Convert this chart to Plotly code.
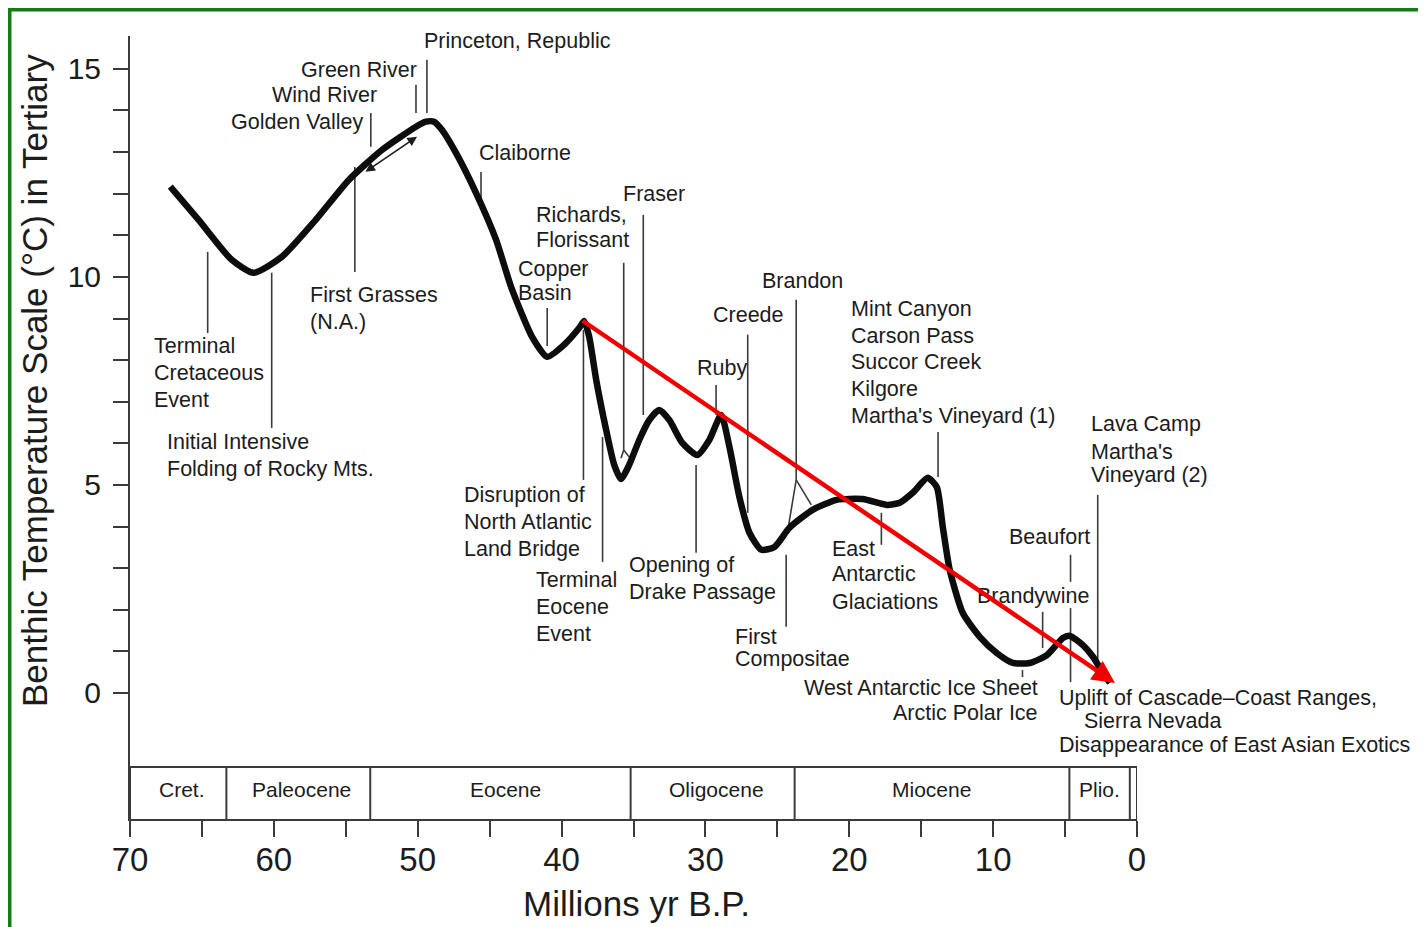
import plotly.graph_objects as go

# ---------------- data ----------------
# Benthic temperature curve: age (Myr B.P.) and temperature scale (deg C)
ages = [67.20, 65.23, 62.93, 61.40, 59.45, 57.09, 54.79, 52.49, 50.12, 49.43,
        48.87, 48.31, 47.34, 45.95, 44.55, 43.51, 42.05, 41.00, 39.82, 38.78,
        38.43, 38.08, 37.59, 36.90, 36.34, 35.87, 35.30, 34.60, 33.90, 33.21,
        32.51, 31.61, 30.56, 29.73, 28.91, 28.33, 27.64, 26.94, 26.11, 25.20,
        24.16, 22.55, 20.88, 19.07, 17.40, 16.50, 15.59, 14.55, 13.92, 13.50,
        13.02, 12.11, 10.93, 9.75, 8.63, 7.45, 6.26, 5.15, 4.66, 3.76,
        3.06, 2.37, 1.88]
temps = [12.17, 11.37, 10.41, 10.10, 10.48, 11.37, 12.33, 13.05, 13.61, 13.73,
         13.73, 13.53, 12.98, 12.02, 10.89, 9.76, 8.56, 8.08, 8.37, 8.77,
         8.94, 8.56, 7.52, 6.32, 5.48, 5.14, 5.48, 6.08, 6.56, 6.80,
         6.56, 6.01, 5.72, 6.08, 6.68, 5.91, 4.71, 3.85, 3.44, 3.51,
         3.97, 4.40, 4.64, 4.66, 4.52, 4.57, 4.81, 5.17, 4.95, 3.99,
         2.96, 1.92, 1.35, 0.96, 0.72, 0.72, 0.91, 1.32, 1.37, 1.15,
         0.87, 0.48, 0.24]

# Geological periods (boundaries in Myr B.P.) and where their names sit
period_bounds = [70, 63.3, 53.3, 35.2, 23.8, 4.7, 0.5, 0]
period_names = ["Cret.", "Paleocene", "Eocene", "Oligocene", "Miocene", "Plio."]
period_label_ages = [66.4, 58.1, 43.9, 29.2, 14.3, 2.6]
bar_top, bar_bottom = -1.78, -3.03
period_label_temp = -2.31

# Axis ticks
x_major = [70, 60, 50, 40, 30, 20, 10, 0]
x_minor = [65, 55, 45, 35, 25, 15, 5]
y_major = [0, 5, 10, 15]
y_minor = [1, 2, 3, 4, 6, 7, 8, 9, 11, 12, 13, 14]

# Event labels: (text, age, temperature, anchor)
event_labels = [
    ("Princeton, Republic", 49.71, 15.67, "left"),
    ("Green River", 49.92, 14.98, "right"),
    ("Wind River", 52.70, 14.38, "right"),
    ("Golden Valley", 53.60, 13.73, "right"),
    ("First Grasses", 57.64, 9.57, "left"),
    ("(N.A.)", 57.64, 8.92, "left"),
    ("Terminal", 68.50, 8.34, "left"),
    ("Cretaceous", 68.50, 7.69, "left"),
    ("Event", 68.50, 7.04, "left"),
    ("Initial Intensive", 67.60, 6.03, "left"),
    ("Folding of Rocky Mts.", 67.60, 5.38, "left"),
    ("Claiborne", 45.88, 12.98, "left"),
    ("Fraser", 35.85, 12.00, "left"),
    ("Richards,", 41.91, 11.49, "left"),
    ("Florissant", 41.91, 10.89, "left"),
    ("Copper", 43.16, 10.19, "left"),
    ("Basin", 43.16, 9.62, "left"),
    ("Disruption of", 46.92, 4.76, "left"),
    ("North Atlantic", 46.92, 4.11, "left"),
    ("Land Bridge", 46.92, 3.46, "left"),
    ("Terminal", 41.91, 2.72, "left"),
    ("Eocene", 41.91, 2.07, "left"),
    ("Event", 41.91, 1.42, "left"),
    ("Opening of", 35.43, 3.08, "left"),
    ("Drake Passage", 35.43, 2.43, "left"),
    ("Ruby", 30.70, 7.81, "left"),
    ("Creede", 29.59, 9.09, "left"),
    ("Brandon", 26.24, 9.90, "left"),
    ("First", 28.06, 1.35, "left"),
    ("Compositae", 28.06, 0.82, "left"),
    ("Mint Canyon", 20.05, 9.23, "left"),
    ("Carson Pass", 20.05, 8.58, "left"),
    ("Succor Creek", 20.05, 7.96, "left"),
    ("Kilgore", 20.05, 7.31, "left"),
    ("Martha's Vineyard (1)", 20.05, 6.66, "left"),
    ("East", 21.37, 3.45, "left"),
    ("Antarctic", 21.37, 2.85, "left"),
    ("Glaciations", 21.37, 2.19, "left"),
    ("Beaufort", 9.05, 3.75, "left"),
    ("Brandywine", 11.28, 2.33, "left"),
    ("West Antarctic Ice Sheet", 6.75, 0.12, "right"),
    ("Arctic Polar Ice", 6.75, -0.48, "right"),
    ("Lava Camp", 3.34, 6.47, "left"),
    ("Martha's", 3.34, 5.79, "left"),
    ("Vineyard (2)", 3.34, 5.24, "left"),
    ("Uplift of Cascade\u2013Coast Ranges,", 5.57, -0.12, "left"),
    ("Sierra Nevada", 3.83, -0.67, "left"),
    ("Disappearance of East Asian Exotics", 5.57, -1.25, "left"),
]

# Vertical leader lines: (age, top temperature, bottom temperature)
leaders = [
    (49.36, 15.22, 13.94), (50.12, 14.62, 13.94), (53.26, 13.94, 13.13),
    (54.37, 12.64, 10.12), (64.60, 10.60, 8.65), (60.15, 10.10, 6.37),
    (45.60, 12.52, 11.80), (34.32, 11.49, 6.68), (35.68, 10.34, 5.84),
    (41.00, 9.25, 8.34), (38.48, 8.73, 5.12), (37.15, 6.15, 3.15),
    (30.65, 5.48, 3.37), (29.26, 7.40, 6.68), (27.06, 8.61, 4.33),
    (23.69, 9.45, 5.12), (24.39, 3.32, 1.59), (13.83, 6.27, 5.19),
    (17.77, 4.33, 3.56), (4.62, 3.32, 2.67), (4.62, 2.04, 0.26),
    (6.56, 1.95, 1.08), (7.96, 0.55, 0.38), (2.73, 4.76, 0.63),
]
# Small wedge strokes: (age0, temp0, age1, temp1)
wedges = [
    (23.69, 5.12, 24.27, 3.92), (23.69, 5.12, 22.64, 4.52),
    (35.68, 5.84, 35.87, 5.64), (35.68, 5.84, 35.25, 5.65),
]

# Trend arrow (red) and small double arrow: (age_start, temp_start, age_end, temp_end)
trend_arrow = (38.64, 8.97, 1.53, 0.24)
small_arrow = (53.74, 12.50, 50.05, 13.37)

# ---------------- figure ----------------
FONT = "Liberation Sans, Arial, Helvetica, sans-serif"
INK = "#1c1c1c"
LINE = "#3a3a3a"
LBL = 21.5

fig = go.Figure()

# leader lines
lx, ly = [], []
for a, t0, t1 in leaders:
    lx += [a, a, None]
    ly += [t0, t1, None]
for a0, t0, a1, t1 in wedges:
    lx += [a0, a1, None]
    ly += [t0, t1, None]
fig.add_trace(go.Scatter(x=lx, y=ly, mode="lines",
                         line=dict(color=LINE, width=1.6),
                         hoverinfo="skip", showlegend=False))

# main curve
fig.add_trace(go.Scatter(x=ages, y=temps, mode="lines",
                         line=dict(color="#0d0d0d", width=6.5, shape="spline", smoothing=0.6),
                         showlegend=False))

shapes = []
# period bar
shapes.append(dict(type="line", xref="x", yref="y", x0=period_bounds[0], x1=period_bounds[-1],
                   y0=bar_top, y1=bar_top, line=dict(color=LINE, width=2)))
for b in period_bounds:
    shapes.append(dict(type="line", xref="x", yref="y", x0=b, x1=b,
                       y0=bar_bottom, y1=bar_top, line=dict(color=LINE, width=2)))

# picture frame (green border of the scanned figure), paper units
PX = 1007.0  # plot width in px
PY = 783.0   # plot height in px
def px_x(p):  # page pixel -> paper x (page offset 8 px, left margin 122)
    return (p - 8 - 122) / PX
def px_y(p):  # page pixel -> paper y (page offset 8 px, top margin 28)
    return 1 - (p - 8 - 28) / PY

shapes.append(dict(type="line", xref="paper", yref="paper", x0=px_x(9.5), x1=px_x(9.5),
                   y0=px_y(930), y1=px_y(6.5), line=dict(color="#157c15", width=4)))
shapes.append(dict(type="line", xref="paper", yref="paper", x0=px_x(7.5), x1=px_x(1424),
                   y0=px_y(9.5), y1=px_y(9.5), line=dict(color="#157c15", width=4)))
shapes.append(dict(type="line", xref="paper", yref="paper", x0=px_x(1423), x1=px_x(1423),
                   y0=px_y(930), y1=px_y(8), line=dict(color="#7fb87f", width=2)))

annotations = []
for txt, a, t, anc in event_labels:
    annotations.append(dict(x=a, y=t, xref="x", yref="y", text=txt, showarrow=False,
                            xanchor=anc, yanchor="middle",
                            font=dict(family=FONT, size=LBL, color=INK)))
for name, a in zip(period_names, period_label_ages):
    annotations.append(dict(x=a, y=period_label_temp,
                            xref="x", yref="y", text=name, showarrow=False,
                            xanchor="center", yanchor="middle",
                            font=dict(family=FONT, size=21, color=INK)))

a0, t0, a1, t1 = trend_arrow
annotations.append(dict(x=a1, y=t1, ax=a0, ay=t0, xref="x", yref="y", axref="x", ayref="y",
                        text="", showarrow=True, arrowhead=2, arrowsize=1.0,
                        arrowwidth=4.5, arrowcolor="#f00000", standoff=0))
a0, t0, a1, t1 = small_arrow
annotations.append(dict(x=a1, y=t1, ax=a0, ay=t0, xref="x", yref="y", axref="x", ayref="y",
                        text="", showarrow=True, arrowhead=2, arrowsize=1.2, arrowside="end+start",
                        arrowwidth=1.6, arrowcolor=INK, standoff=0, startstandoff=0))

# axis titles
annotations.append(dict(x=px_x(35), y=px_y(381), xref="paper", yref="paper",
                        text="Benthic Temperature Scale (\u00b0C) in Tertiary", textangle=-90,
                        showarrow=False, xanchor="center", yanchor="middle",
                        font=dict(family=FONT, size=35, color=INK)))
annotations.append(dict(x=px_x(636), y=px_y(903), xref="paper", yref="paper",
                        text="Millions yr B.P.", showarrow=False,
                        xanchor="center", yanchor="middle",
                        font=dict(family=FONT, size=35, color=INK)))

fig.update_layout(
    width=1418, height=919,
    margin=dict(l=122, r=289, t=28, b=108),
    paper_bgcolor="white", plot_bgcolor="white",
    showlegend=False,
    shapes=shapes, annotations=annotations,
    xaxis=dict(range=[70, 0], showgrid=False, zeroline=False,
               showline=True, linecolor=LINE, linewidth=2,
               tickmode="array", tickvals=x_major, ticktext=[str(v) for v in x_major],
               ticks="outside", ticklen=16, tickwidth=2, tickcolor=LINE,
               ticklabelstandoff=-6,
               tickfont=dict(family=FONT, size=33, color=INK),
               minor=dict(tickmode="array", tickvals=x_minor, ticks="outside",
                          ticklen=16, tickwidth=2, tickcolor=LINE, showgrid=False)),
    yaxis=dict(range=[-3.03, 15.79], showgrid=False, zeroline=False,
               showline=True, linecolor=LINE, linewidth=2,
               tickmode="array", tickvals=y_major, ticktext=[str(v) for v in y_major],
               ticks="outside", ticklen=15, tickwidth=2, tickcolor=LINE,
               ticklabelstandoff=6,
               tickfont=dict(family=FONT, size=30, color=INK),
               minor=dict(tickmode="array", tickvals=y_minor, ticks="outside",
                          ticklen=15, tickwidth=2, tickcolor=LINE, showgrid=False)),
)

fig.write_html("out.html")
